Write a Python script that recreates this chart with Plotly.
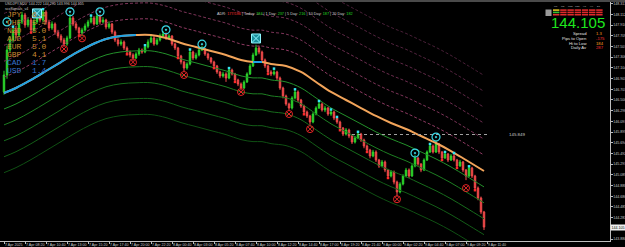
import plotly.graph_objects as go

# ---------------- data ----------------
bars = list(range(161))
first_open = 146.650
closes = [
146.970,147.441,147.629,147.818,147.724,147.969,148.100,147.912,148.006,147.818,
147.969,148.119,148.006,148.157,147.969,147.855,147.931,147.780,147.705,147.629,
147.554,147.667,148.044,147.931,147.855,147.761,147.818,147.893,147.969,148.044,
147.931,148.082,147.969,148.006,147.874,147.931,147.780,147.629,147.554,147.592,
147.479,147.403,147.347,147.290,147.366,147.441,147.403,147.498,147.592,147.667,
147.554,147.629,147.705,147.742,147.667,147.705,147.554,147.479,147.328,147.215,
147.102,147.177,147.403,147.290,147.347,147.441,147.460,147.366,147.290,147.215,
147.140,147.027,146.951,146.989,146.913,147.064,146.989,146.876,146.800,146.725,
146.838,146.989,147.140,147.347,147.479,147.403,147.253,147.140,147.027,146.989,
147.027,146.913,146.725,146.574,146.424,146.348,146.537,146.650,146.499,146.386,
146.273,146.198,146.085,146.235,146.348,146.424,146.311,146.348,146.235,146.273,
146.160,146.085,145.971,145.858,145.934,145.821,145.708,145.783,145.858,145.745,
145.632,145.557,145.444,145.519,145.369,145.256,145.331,145.180,145.067,145.143,
144.954,144.766,144.916,145.067,145.180,145.067,145.256,145.406,145.293,145.180,
145.369,145.519,145.632,145.519,145.670,145.519,145.406,145.482,145.369,145.444,
145.369,145.256,145.331,145.180,145.067,145.218,145.067,144.841,144.653,144.389,
144.105]
highs = [
147.05,147.52,147.70,147.88,147.90,148.02,148.16,148.14,148.06,148.05,
148.03,148.20,148.15,148.21,148.19,148.01,147.98,147.96,147.82,147.74,
147.67,147.71,148.12,148.08,147.97,147.88,147.86,147.94,148.01,148.09,
148.08,148.14,148.11,148.06,148.03,147.98,147.95,147.81,147.66,147.64,
147.62,147.51,147.43,147.38,147.40,147.48,147.47,147.53,147.64,147.72,
147.70,147.67,147.75,147.80,147.77,147.74,147.72,147.58,147.50,147.35,
147.24,147.21,147.45,147.43,147.39,147.48,147.52,147.48,147.39,147.31,
147.24,147.16,147.05,147.03,147.02,147.10,147.09,147.01,146.90,146.83,
146.87,147.02,147.18,147.39,147.54,147.52,147.43,147.28,147.16,147.06,
147.09,147.05,146.94,146.75,146.60,146.45,146.57,146.70,146.68,146.52,
146.41,146.30,146.22,146.27,146.38,146.48,146.45,146.39,146.37,146.32,
146.30,146.18,146.11,145.99,145.97,145.96,145.85,145.82,145.90,145.88,
145.77,145.66,145.58,145.56,145.55,145.39,145.37,145.36,145.20,145.18,
145.17,144.98,144.95,145.10,145.22,145.21,145.29,145.46,145.43,145.31,
145.40,145.55,145.67,145.66,145.74,145.69,145.54,145.52,145.50,145.48,
145.50,145.39,145.37,145.35,145.20,145.25,145.24,145.09,144.87,144.68,
144.41]
lows = [
146.60,146.90,147.40,147.58,147.66,147.68,147.93,147.86,147.87,147.77,
147.78,147.93,147.96,147.97,147.92,147.80,147.82,147.73,147.66,147.58,
147.50,147.52,147.64,147.89,147.81,147.71,147.70,147.79,147.86,147.94,
147.90,147.91,147.92,147.94,147.83,147.84,147.74,147.59,147.51,147.52,
147.44,147.36,147.30,147.24,147.27,147.33,147.37,147.38,147.47,147.57,
147.52,147.53,147.60,147.68,147.63,147.64,147.52,147.44,147.29,147.17,
147.04,147.07,147.15,147.25,147.26,147.32,147.42,147.33,147.25,147.18,
147.10,146.99,146.91,146.92,146.84,146.89,146.96,146.84,146.76,146.68,
146.70,146.82,146.97,147.12,147.33,147.36,147.21,147.10,146.99,146.95,
146.96,146.87,146.69,146.53,146.39,146.29,146.32,146.51,146.46,146.35,
146.23,146.16,146.03,146.06,146.21,146.33,146.28,146.27,146.20,146.20,
146.12,146.05,145.93,145.82,145.83,145.78,145.67,145.68,145.76,145.71,
145.59,145.52,145.40,145.42,145.33,145.22,145.23,145.14,145.03,145.04,
144.91,144.68,144.74,144.89,145.04,145.03,145.05,145.23,145.26,145.14,
145.16,145.35,145.50,145.49,145.50,145.48,145.37,145.39,145.33,145.35,
145.34,145.22,145.24,145.14,144.99,145.05,145.03,144.80,144.61,144.35,
144.05]
opens = [first_open] + closes[:-1]

# moving average (read at sample bars)
ma_bars = [0,4,9,14,19,24,29,34,39,44,49,54,59,64,69,74,79,83,86,89,94,99,104,
           109,114,119,124,129,134,139,144,149,154,160]
ma_vals = [146.630,146.725,146.876,147.045,147.215,147.385,147.535,147.648,147.705,
           147.724,147.724,147.667,147.573,147.498,147.422,147.347,147.253,147.215,
           147.215,147.177,147.140,147.027,146.838,146.650,146.499,146.348,146.198,
           146.066,145.953,145.821,145.689,145.538,145.369,145.162]
ma_rising_segments = [(0, 9), (17, 18)]
band_upper_offsets = [0.30, 0.60, 0.90, 1.20, 1.50, 1.80]
band_lower_offsets = [0.30, 0.60, 0.90, 1.20, 1.50]

# signals
cyan_circle_bars = [1, 22, 32, 54, 66, 137, 144]
cyan_circle_prices = [147.969, 148.160, 148.160, 147.820, 147.550, 145.500, 145.800]
cyan_square_bars = [11, 84]
cyan_square_prices = [148.130, 147.658]
red_circle_bars = [20, 26, 43, 60, 79, 95, 102, 131, 154]
red_circle_prices = [147.460, 147.660, 147.210, 146.970, 146.650, 146.235, 145.950, 144.630, 144.840]
cyan_tick_bars = [3, 13, 29, 47, 62, 75, 90, 97, 105, 109, 111, 118, 142, 147, 150, 155]
red_dot_bars = [9, 25, 41, 58, 70, 77, 88, 100, 112, 121, 128, 146, 151, 157]

level_price = 145.849
level_start_bar, level_end_bar = 116, 161

y_tick_vals = [143.880,144.283,144.485,144.686,144.888,145.089,145.291,145.492,
               145.694,145.895,146.097,146.298,146.500,146.701,146.903,147.104,147.306,
               147.507,147.709,147.910,148.112,148.313]
y_tick_text = ["%.3f" % v for v in y_tick_vals]
x_tick_bars = [0,7,14,21,28,35,42,49,56,63,70,77,84,91,98,105,112,119,126,133,140,147,154,161]
x_tick_labels = ["7 Apr 2025","7 Apr 08:20","7 Apr 10:40","7 Apr 13:00","7 Apr 15:20",
                 "7 Apr 17:40","7 Apr 20:00","7 Apr 22:20","8 Apr 00:40","8 Apr 03:00",
                 "8 Apr 05:20","8 Apr 07:40","8 Apr 10:00","8 Apr 12:20","8 Apr 14:40",
                 "8 Apr 17:00","8 Apr 19:20","8 Apr 21:40","9 Apr 00:00","9 Apr 02:20",
                 "9 Apr 04:40","9 Apr 07:00","9 Apr 09:20","9 Apr 11:40"]

currencies = ["JPY", "CHF", "NZD", "AUD", "EUR", "GBP", "CAD", "USD"]
strengths = ["6.4", "5.4", "5.0", "5.1", "5.0", "4.1", "1.7", "1.4"]
bid = "144.105"
info_labels = ["Spread", "Pips to Open", "Hi to Low", "Daily Av"]
info_values = ["1.3", "-175", "184", "287"]
adr_values = ["177/186", "184", "237", "216", "187", "182"]
tf_labels = ["M1", "M5", "M15", "M30", "H1", "H4", "D1"]

# ---------------- figure ----------------
W, H = 625, 247
L, R, T, B = 0, 15, 2, 6
PW, PH = W - L - R, H - T - B

def px(x):
    return (x - L) / PW

def py(y):
    return (H - B - y) / PH

fig = go.Figure()

# bands
up_cols = ["#8e3a62", "#7c3458", "#6c2d4f", "#5e2846", "#52233e", "#481f37"]
for k, off in enumerate(band_upper_offsets):
    fig.add_trace(go.Scatter(x=ma_bars, y=[v + off for v in ma_vals], mode="lines",
                             line=dict(color=up_cols[k], width=1, dash="3px,2px", shape="spline"),
                             hoverinfo="skip"))
lo_cols = ["#23902a", "#1d7e22", "#176c1c", "#135d17", "#0f5013"]
for k, off in enumerate(band_lower_offsets):
    fig.add_trace(go.Scatter(x=ma_bars, y=[v - off for v in ma_vals], mode="lines",
                             line=dict(color=lo_cols[k], width=1, shape="spline"),
                             hoverinfo="skip"))

# MA: orange falling, blue rising
fig.add_trace(go.Scatter(x=ma_bars, y=ma_vals, mode="lines",
                         line=dict(color="#f2a45a", width=2, shape="spline"), hoverinfo="skip"))
for a, b in ma_rising_segments:
    fig.add_trace(go.Scatter(x=ma_bars[a:b + 1], y=ma_vals[a:b + 1], mode="lines",
                             line=dict(color="#1fa3e6", width=2, shape="spline"), hoverinfo="skip"))

# level line
fig.add_trace(go.Scatter(x=[level_start_bar, level_end_bar], y=[level_price, level_price],
                         mode="lines", line=dict(color="#a0a0a0", width=1, dash="dot"),
                         hoverinfo="skip"))

# candles
fig.add_trace(go.Candlestick(x=bars, open=opens, high=highs, low=lows, close=closes,
                             increasing=dict(line=dict(color="#2bd42b", width=1), fillcolor="#2bd42b"),
                             decreasing=dict(line=dict(color="#f04a4a", width=1), fillcolor="#f04a4a"),
                             whiskerwidth=0, hoverinfo="skip"))

# small signal marks
fig.add_trace(go.Scatter(x=cyan_tick_bars, y=[highs[i] for i in cyan_tick_bars], mode="markers",
                         marker=dict(symbol="square", size=2.5, color="#35e4f0", line=dict(width=0)),
                         hoverinfo="skip"))
fig.add_trace(go.Scatter(x=red_dot_bars, y=[lows[i] for i in red_dot_bars], mode="markers",
                         marker=dict(symbol="square", size=2.5, color="#ff2a2a", line=dict(width=0)),
                         hoverinfo="skip"))
fig.add_trace(go.Scatter(x=red_circle_bars, y=red_circle_prices, mode="markers",
                         marker=dict(symbol="circle-x-open", size=7, color="#e32626",
                                     line=dict(width=1, color="#e32626")), hoverinfo="skip"))
fig.add_trace(go.Scatter(x=cyan_circle_bars, y=cyan_circle_prices, mode="markers",
                         marker=dict(symbol="circle-open-dot", size=8, color="#3ad8e6",
                                     line=dict(width=1.2, color="#3ad8e6")), hoverinfo="skip"))
fig.add_trace(go.Scatter(x=cyan_square_bars, y=cyan_square_prices, mode="markers",
                         marker=dict(symbol="square-x", size=9, color="#1b8f9c",
                                     line=dict(width=1, color="#8ff6ff")), hoverinfo="skip"))

ann = []
# top-left header
ann.append(dict(x=px(3), y=py(3.5), xref="paper", yref="paper", xanchor="left", yanchor="middle",
                text="USDJPY,M20  144.222 144.290 143.996 144.105", showarrow=False,
                font=dict(size=3.6, color="#c8c8c8", family="Liberation Sans")))
ann.append(dict(x=px(3), y=py(8.5), xref="paper", yref="paper", xanchor="left", yanchor="middle",
                text="scoSignals_v4", showarrow=False,
                font=dict(size=3.6, color="#c8c8c8", family="Liberation Sans")))
# currency strength
for k, (c, s) in enumerate(zip(currencies, strengths)):
    col = "#c98a30" if k < 6 else "#3474d0"
    yy = 14 + 8.1 * k
    ann.append(dict(x=px(5), y=py(yy), xref="paper", yref="paper", xanchor="left", yanchor="middle",
                    text=c, showarrow=False, font=dict(size=8, color=col, family="Liberation Mono")))
    ann.append(dict(x=px(30), y=py(yy), xref="paper", yref="paper", xanchor="left", yanchor="middle",
                    text=s, showarrow=False, font=dict(size=8, color=col, family="Liberation Mono")))
# ADR line
g = "#22dd22"
adr_text = ("ADR: <span style='color:#ff3030'>%s</span> | Today: <span style='color:%s'>%s</span> | "
            "1 Day: <span style='color:%s'>%s</span> | 5 Day: <span style='color:%s'>%s</span> | "
            "10 Day: <span style='color:%s'>%s</span> | 20 Day: <span style='color:%s'>%s</span>") % (
    adr_values[0], g, adr_values[1], g, adr_values[2], g, adr_values[3], g, adr_values[4], g, adr_values[5])
ann.append(dict(x=px(215), y=py(13.5), xref="paper", yref="paper", xanchor="left", yanchor="middle",
                text=adr_text, showarrow=False,
                font=dict(size=3.8, color="#d0d0d0", family="Liberation Sans")))
# big bid
ann.append(dict(x=px(578), y=py(23), xref="paper", yref="paper", xanchor="center", yanchor="middle",
                text=bid, showarrow=False, font=dict(size=15, color="#1ee61e", family="Liberation Sans")))
# info rows
info_cols = ["#ff9a1a", "#ff3535", "#ffa020", "#ff3030"]
for k, (lab, val) in enumerate(zip(info_labels, info_values)):
    yy = 33.5 + 4.8 * k
    ann.append(dict(x=px(589), y=py(yy), xref="paper", yref="paper", xanchor="right", yanchor="middle",
                    text=lab, showarrow=False, font=dict(size=4.2, color="#e0e0e0", family="Liberation Sans")))
    ann.append(dict(x=px(594), y=py(yy), xref="paper", yref="paper", xanchor="left", yanchor="middle",
                    text=val, showarrow=False, font=dict(size=4.2, color=info_cols[k], family="Liberation Sans")))
# timeframe header
for k, tf in enumerate(tf_labels):
    ann.append(dict(x=px(556.2 + 7.2 * k), y=py(6.8), xref="paper", yref="paper", xanchor="center",
                    yanchor="middle", text=tf, showarrow=False,
                    font=dict(size=2.4, color="#c0c0c0", family="Liberation Sans")))
# level label
ann.append(dict(x=171, y=level_price, xref="x", yref="y", xanchor="center", yanchor="middle",
                text="%.3f" % level_price, showarrow=False,
                font=dict(size=4.4, color="#c8c8c8", family="Liberation Sans")))
# bid box on the axis
ann.append(dict(x=1.0, y=float(bid), xref="paper", yref="y", xanchor="left", yanchor="middle",
                text=bid, showarrow=False, bgcolor="#f0f0f0", borderpad=0.6,
                font=dict(size=3.6, color="#000000", family="Liberation Sans")))

shapes = []
# top window strip
shapes.append(dict(type="rect", xref="paper", yref="paper", x0=0, x1=W / PW, y0=1, y1=1 + 2 / PH,
                   fillcolor="#4a4a4a", line=dict(width=0), layer="above"))
# timeframe matrix
for k in range(7):
    x0 = 553 + 7.2 * k
    for r in range(3):
        y0 = 9.3 + 2.3 * r
        if k == 0:
            col = ["#e0c020", "#30c030", "#e03030"][r]
        else:
            col = "#e02a2a"
        shapes.append(dict(type="rect", xref="paper", yref="paper", x0=px(x0), x1=px(x0 + 6.4),
                           y0=py(y0 + 1.6), y1=py(y0), fillcolor=col, line=dict(width=0), layer="above"))
shapes.append(dict(type="rect", xref="paper", yref="paper", x0=px(545.5), x1=px(551.5),
                   y0=py(16), y1=py(9.5), fillcolor="#9a9a9a", line=dict(width=0), layer="above"))

fig.update_layout(
    width=W, height=H, margin=dict(l=L, r=R, t=T, b=B, pad=0),
    paper_bgcolor="#000000", plot_bgcolor="#000000", showlegend=False,
    annotations=ann, shapes=shapes,
    xaxis=dict(range=[-4 / 3, (PW - 4) / 3], showgrid=False, zeroline=False, rangeslider=dict(visible=False),
               showline=True, linecolor="#bdbdbd", linewidth=1, ticks="outside", ticklen=2,
               tickcolor="#bdbdbd", tickvals=x_tick_bars, ticktext=x_tick_labels,
               ticklabelposition="outside right", tickangle=0,
               tickfont=dict(size=3.6, color="#c8c8c8", family="Liberation Sans")),
    yaxis=dict(range=[143.843, 148.345], side="right", showgrid=False, zeroline=False,
               showline=True, linecolor="#bdbdbd", linewidth=1, ticks="outside", ticklen=1.5,
               tickcolor="#bdbdbd", tickvals=y_tick_vals, ticktext=y_tick_text,
               tickfont=dict(size=3.6, color="#c8c8c8", family="Liberation Sans")),
)

fig.write_html("out.html", config={"displayModeBar": False})
